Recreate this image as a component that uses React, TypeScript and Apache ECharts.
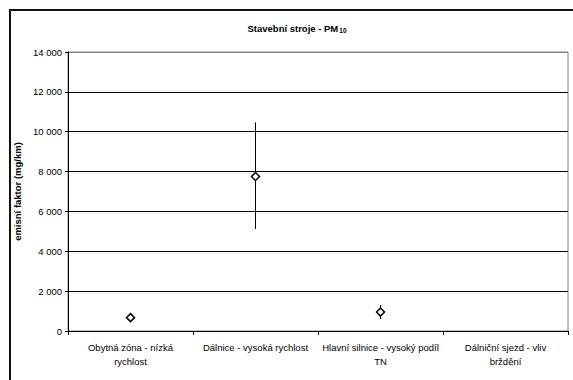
import React, { useEffect, useRef } from "react";
import * as echarts from "echarts";

const categories = [
  "Obytná zóna - nízká\nrychlost",
  "Dálnice - vysoká rychlost",
  "Hlavní silnice - vysoký podíl\nTN",
  "Dálniční sjezd - vliv\nbrždění",
];
const meanValues: (number | null)[] = [670, 7750, 950, null];
const errorLow: (number | null)[] = [null, 5120, 600, null];
const errorHigh: (number | null)[] = [null, 10470, 1300, null];

const FONT = "'Liberation Sans', Arial, sans-serif";

function fmt(v: number): string {
  return String(v).replace(/\B(?=(\d{3})+(?!\d))/g, " ");
}

export default function App() {
  const ref = useRef<HTMLDivElement>(null);
  useEffect(() => {
    if (!ref.current) return;
    const chart = echarts.init(ref.current, undefined, { renderer: "svg" });
    const errData: number[][] = [];
    categories.forEach((_, i) => {
      const lo = errorLow[i];
      const hi = errorHigh[i];
      if (lo != null && hi != null) errData.push([i, lo, hi]);
    });
    const scatterData = categories.map((_, i) =>
      meanValues[i] == null ? [i, null] : [i, meanValues[i]]
    );
    chart.setOption({
      animation: false,
      backgroundColor: "#fff",
      textStyle: { fontFamily: FONT },
      graphic: [
        {
          type: "rect",
          shape: { x: 10, y: 10, width: 640, height: 440 },
          style: { fill: "none", stroke: "#111", lineWidth: 2 },
          silent: true,
          z: 0,
        },
        {
          type: "text",
          x: 297,
          y: 28,
          style: {
            text: "{a|Stavební stroje - PM}{b|10}",
            textAlign: "center",
            textVerticalAlign: "middle",
            rich: {
              a: { fontFamily: FONT, fontSize: 9.5, fontWeight: "bold", fill: "#000" },
              b: { fontFamily: FONT, fontSize: 6.5, fontWeight: "bold", fill: "#000", padding: [4, 0, 0, 1] },
            },
          },
          z: 10,
        },
      ],
      grid: {
        left: 68,
        top: 52,
        right: 5,
        bottom: 49,
        show: true,
        borderColor: "#808080",
        borderWidth: 1,
        backgroundColor: "transparent",
      },
      xAxis: {
        type: "category",
        data: categories,
        boundaryGap: true,
        axisLine: { lineStyle: { color: "#000", width: 1 } },
        axisTick: { show: true, inside: false, length: 4, alignWithLabel: false, lineStyle: { color: "#000" } },
        axisLabel: {
          color: "#000",
          fontFamily: FONT,
          fontSize: 9.5,
          lineHeight: 14,
          margin: 9,
          interval: 0,
        },
        splitLine: { show: false },
      },
      yAxis: {
        type: "value",
        min: 0,
        max: 14000,
        interval: 2000,
        name: "emisní faktor (mg/km)",
        nameLocation: "middle",
        nameGap: 45,
        nameTextStyle: { fontFamily: FONT, fontSize: 9.5, fontWeight: "bold", color: "#000" },
        axisLine: { show: true, lineStyle: { color: "#000", width: 1 } },
        axisTick: { show: true, inside: false, length: 3, lineStyle: { color: "#000" } },
        axisLabel: {
          color: "#000",
          fontFamily: FONT,
          fontSize: 9.5,
          margin: 6,
          formatter: (v: number) => fmt(v),
        },
        splitLine: {
          show: true,
          lineStyle: {
            color: ["#000", "#000", "#000", "#000", "#000", "#000", "#000", "#808080"],
            width: 1,
          },
        },
      },
      series: [
        {
          type: "custom",
          data: errData,
          z: 2,
          renderItem: (params: any, api: any) => {
            const x = api.value(0);
            const p1 = api.coord([x, api.value(1)]);
            const p2 = api.coord([x, api.value(2)]);
            return {
              type: "line",
              shape: { x1: p1[0], y1: p1[1], x2: p2[0], y2: p2[1] },
              style: { stroke: "#000", lineWidth: 1 },
            };
          },
          encode: { x: 0, y: [1, 2] },
        },
        {
          type: "scatter",
          data: scatterData,
          symbol: "diamond",
          symbolSize: 8,
          z: 5,
          itemStyle: { color: "#fff", borderColor: "#000", borderWidth: 1.5, opacity: 1 },
        },
      ],
    });
    return () => chart.dispose();
  }, []);
  return (
    <div
      ref={ref}
      style={{ position: "absolute", left: 0, top: 0, width: 573, height: 380 }}
    />
  );
}
